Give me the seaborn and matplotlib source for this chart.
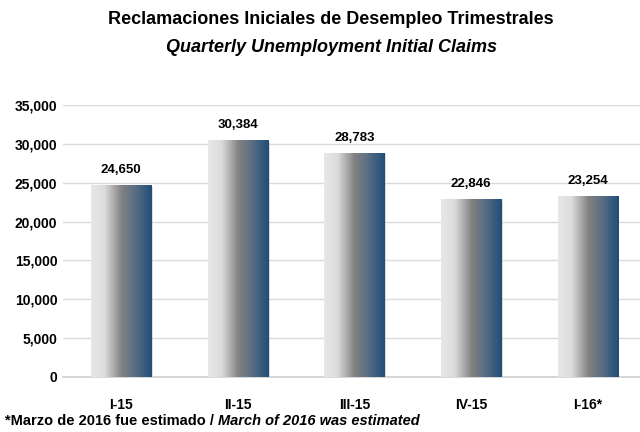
import numpy as np
import matplotlib
matplotlib.use("Agg")
import matplotlib.pyplot as plt
from matplotlib.colors import LinearSegmentedColormap
from matplotlib.ticker import FuncFormatter
import pandas as pd
import seaborn as sns


# data
quarters = ["I-15", "II-15", "III-15", "IV-15", "I-16*"]
claims = [24650, 30384, 28783, 22846, 23254]

title_es = "Reclamaciones Iniciales de Desempleo Trimestrales"
title_en = "Quarterly Unemployment Initial Claims"
note_es = "*Marzo de 2016 fue estimado / "
note_en = "March of 2016 was estimated"

sns.set_style("white")
plt.rcParams["font.family"] = ["Liberation Sans Narrow", "Liberation Sans", "DejaVu Sans"]
plt.rcParams["text.color"] = "black"
plt.rcParams["xtick.color"] = "black"
plt.rcParams["ytick.color"] = "black"

df = pd.DataFrame({"quarter": quarters, "claims": claims})

fig = plt.figure(figsize=(6.4, 4.32), dpi=100)
ax = fig.add_axes([63 / 640, 55 / 432, 583 / 640, 272 / 432])

sns.barplot(data=df, x="quarter", y="claims", ax=ax, color="white",
            width=0.515, saturation=1, zorder=2)

# gradient fill on each bar
grad = LinearSegmentedColormap.from_list(
    "bar", [(0.0, "#e8e8e8"), (0.22, "#dcdcdc"), (0.5, "#828282"),
            (0.72, "#5a6e84"), (1.0, "#1f4e79")])
ramp = np.linspace(0, 1, 256).reshape(1, -1)
for p in ax.patches:
    x0, y0 = p.get_x(), p.get_y()
    w, h = p.get_width(), p.get_height()
    # soft shadow
    ax.add_patch(plt.Rectangle((x0 + 0.015, y0), w, h - 150, color="#bbbbbb",
                               alpha=0.5, zorder=2.5, lw=0))
    ax.imshow(ramp, cmap=grad, extent=(x0, x0 + w, y0, y0 + h),
              aspect="auto", zorder=3)
    p.set_visible(False)

ax.set_xlim(-0.5, 4.5)
ax.set_ylim(0, 35000)
ax.set_yticks(range(0, 35001, 5000))
ax.yaxis.set_major_formatter(FuncFormatter(lambda v, _: f"{int(v):,}"))
ax.grid(axis="y", color="#dadada", lw=1, zorder=0)
ax.set_axisbelow(True)
for s in ["top", "right", "left"]:
    ax.spines[s].set_visible(False)
ax.spines["bottom"].set_color("#cfcfcf")
ax.spines["bottom"].set_linewidth(1.2)
ax.tick_params(axis="both", length=0, labelsize=10)
ax.tick_params(axis="x", pad=15)
ax.tick_params(axis="y", pad=4)
for lab in ax.get_xticklabels() + ax.get_yticklabels():
    lab.set_fontweight("bold")
ax.set_xlabel("")
ax.set_ylabel("")

for i, v in enumerate(claims):
    ax.annotate(f"{v:,}", (i, v), xytext=(0, 7), textcoords="offset points",
                ha="center", va="bottom", fontsize=9.5, fontweight="bold")

fig.text(331 / 640, 1 - 19 / 432, title_es, ha="center", va="center",
         fontsize=13, fontweight="bold")
fig.text(331 / 640, 1 - 47 / 432, title_en, ha="center", va="center",
         fontsize=13, fontweight="bold", style="italic")

t1 = fig.text(5 / 640, 1 - 421 / 432, note_es, ha="left", va="center",
              fontsize=10.5, fontweight="bold")
fig.canvas.draw()
bb = t1.get_window_extent()
fig.text(bb.x1 / fig.bbox.width, 1 - 421 / 432, note_en, ha="left", va="center",
         fontsize=10.5, fontweight="bold", style="italic")

fig.savefig("out.png", dpi=100)
